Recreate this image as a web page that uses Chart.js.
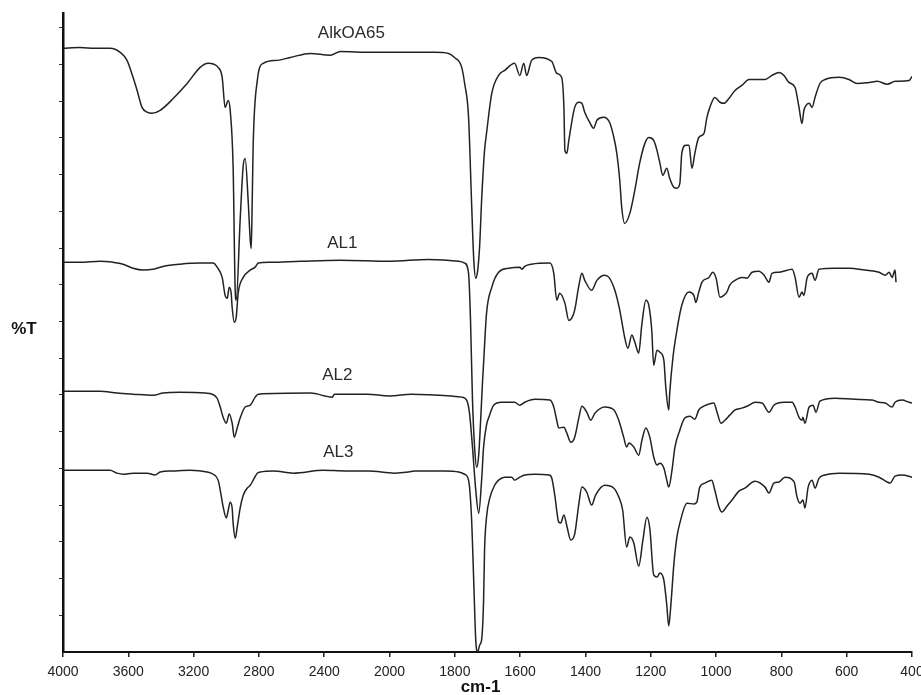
<!DOCTYPE html>
<html>
<head>
<meta charset="utf-8">
<script src="https://cdn.jsdelivr.net/npm/chart.js@4.4.1/dist/chart.umd.min.js"></script>
<style>
    html, body { margin: 0; padding: 0; background: #fff; }
    #wrap { width: 921px; height: 695px; position: relative; }
</style>
</head>
<body>
<div id="wrap"><canvas id="ftir"></canvas></div>
<script>
// --- data (wavenumber in cm-1, %T with an offset per spectrum) ---
const xTickLabels = [4000, 3600, 3200, 2800, 2400, 2000, 1800, 1600, 1400, 1200, 1000, 800, 600, 400];

const alkWn = [4000,3896,3804,3712,3650,3608,3571,3546,3516,3485,3454,3405,3325,3240,3160,3111,3050,3025,3007,2988,2976,2958,2945,2939,2915,2896,2884,2866,2853,2847,2841,2835,2810,2774,2688,2608,2485,2363,2301,2117,2000,1862,1819,1801,1779,1770,1758,1749,1742,1736,1730,1724,1718,1709,1703,1687,1666,1647,1617,1601,1589,1580,1565,1543,1503,1488,1473,1466,1463,1457,1451,1433,1420,1411,1402,1387,1375,1365,1344,1326,1313,1304,1295,1289,1280,1264,1249,1234,1218,1206,1191,1181,1172,1163,1151,1142,1129,1120,1111,1105,1092,1083,1074,1065,1053,1037,1028,1019,1004,988,976,961,942,921,899,850,829,807,792,777,758,746,737,731,725,715,706,697,682,666,623,593,568,531,506,476,451,409,400];
const alkT = [164.4,164.6,164.4,164.4,163.3,161.1,156.5,152.9,148.3,147.0,146.7,147.5,150.7,154.8,159.2,160.3,159.2,156.5,148.3,150.2,147.5,132.0,98.0,95.8,117.6,132.5,134.4,123.0,112.1,109.9,123.0,138.5,155.6,160.3,161.1,161.9,163.0,162.5,163.5,163.3,163.3,163.3,163.0,161.9,159.2,154.8,145.6,123.0,106.7,101.8,104.0,110.7,123.0,136.6,141.2,152.1,157.0,158.4,160.3,157.0,160.3,157.0,161.1,161.9,160.8,157.6,156.5,148.3,136.6,135.8,139.3,148.3,149.7,149.4,146.9,144.2,142.6,144.8,145.6,144.2,140.1,135.8,128.4,121.1,116.7,119.5,125.7,133.1,138.5,140.1,139.3,136.6,133.1,129.8,131.7,129.0,126.5,126.3,127.6,135.8,138.0,138.0,131.7,135.8,140.1,141.2,145.6,148.3,151.0,149.7,149.4,150.7,152.9,154.3,155.9,155.9,157.0,157.8,157.0,155.1,153.7,148.3,143.9,147.5,148.8,149.4,148.3,151.0,154.8,155.9,156.5,155.9,154.8,155.1,155.4,154.6,155.4,155.6,156.7];

const al1Wn = [4000,3896,3773,3693,3632,3571,3509,3448,3387,3283,3160,3080,3056,3025,3007,2994,2982,2970,2964,2951,2939,2927,2896,2853,2823,2804,2731,2547,2301,2000,1880,1788,1770,1758,1752,1746,1739,1733,1727,1721,1715,1712,1703,1687,1666,1635,1601,1595,1586,1565,1509,1497,1488,1479,1463,1451,1442,1433,1420,1411,1402,1381,1365,1341,1328,1310,1295,1280,1270,1258,1249,1237,1227,1215,1206,1197,1191,1181,1172,1160,1154,1145,1142,1132,1120,1105,1083,1068,1062,1053,1043,1022,1010,1000,988,976,967,958,942,921,905,890,869,853,838,829,807,767,758,746,737,731,721,706,697,685,636,593,544,501,482,470,461,452,449];
const al1T = [106.1,106.1,106.4,106.1,105.6,104.5,104.0,104.2,105.0,105.6,105.9,105.9,104.8,102.0,97.1,96.3,99.3,97.7,93.9,89.8,91.2,97.7,102.0,104.0,104.8,105.9,106.1,106.4,106.7,106.4,106.9,106.4,105.9,103.1,90.3,68.6,55.0,50.3,53.6,63.1,74.0,78.6,92.2,99.3,103.4,104.5,104.8,104.2,105.0,105.6,105.9,103.1,95.8,97.7,95.0,90.3,90.9,93.1,99.9,103.1,101.2,98.5,101.2,102.6,102.0,98.5,93.1,85.7,82.7,86.3,84.4,81.4,89.5,95.8,94.4,87.6,78.1,82.2,81.6,79.5,72.1,65.9,70.5,80.3,87.6,94.4,98.0,97.1,95.2,98.0,100.7,102.0,103.4,101.8,96.6,97.1,98.0,99.9,101.2,102.0,101.8,103.4,103.7,102.6,100.7,103.1,103.4,104.2,102.0,96.6,98.0,97.1,102.0,103.1,101.2,104.2,104.5,104.5,104.0,103.4,102.6,103.4,102.0,104.0,100.7];

const al2Wn = [4000,3773,3669,3571,3448,3387,3283,3129,3086,3056,3037,3019,3000,2982,2964,2951,2933,2915,2884,2853,2823,2804,2485,2350,2338,2136,2000,1933,1810,1779,1764,1755,1746,1736,1727,1718,1712,1703,1696,1681,1657,1617,1601,1586,1555,1509,1497,1488,1482,1466,1457,1445,1433,1420,1411,1396,1384,1371,1341,1313,1298,1283,1274,1267,1252,1237,1227,1215,1203,1191,1181,1172,1160,1151,1145,1135,1126,1111,1096,1080,1065,1053,1043,1022,1007,997,985,973,958,942,921,899,881,859,838,823,792,767,758,746,737,734,728,715,703,694,682,636,574,522,501,482,461,452,430,409,400];
const al2T = [71.0,71.0,70.5,70.2,69.9,70.5,70.7,70.5,70.2,69.1,66.7,63.9,62.3,64.8,62.3,58.5,61.0,63.7,66.7,67.2,69.4,70.2,70.5,69.4,70.2,70.2,69.7,70.2,69.7,69.4,68.6,65.0,55.8,44.1,37.8,46.8,55.8,61.8,63.9,67.2,68.0,68.0,67.2,68.0,68.8,68.6,66.7,63.1,61.0,61.2,59.6,57.1,58.5,63.9,66.9,65.3,63.1,65.0,66.7,65.9,63.1,58.5,55.8,56.9,55.8,53.6,57.7,61.0,58.5,53.1,50.9,51.4,50.1,46.8,44.9,49.5,55.8,60.4,63.7,64.2,63.4,65.9,66.7,67.5,67.8,65.3,62.3,63.1,64.5,65.9,66.4,67.2,68.0,67.8,65.3,67.2,68.0,68.0,66.7,63.9,63.1,63.9,62.3,66.7,67.2,65.3,68.3,69.1,68.8,68.6,68.0,67.8,66.7,68.0,68.6,68.0,67.8];

const al3Wn = [4000,3712,3669,3632,3571,3485,3436,3405,3325,3221,3117,3080,3050,3037,3019,3000,2988,2976,2964,2958,2945,2933,2915,2896,2872,2853,2835,2810,2792,2712,2590,2406,2271,2129,1985,1942,1923,1831,1788,1770,1758,1749,1742,1736,1730,1724,1718,1712,1709,1703,1693,1678,1666,1647,1626,1617,1601,1586,1555,1512,1503,1494,1482,1476,1466,1457,1445,1433,1420,1411,1396,1381,1369,1341,1313,1298,1286,1274,1264,1252,1237,1224,1212,1203,1191,1181,1172,1160,1151,1145,1139,1129,1120,1111,1089,1068,1059,1050,1034,1013,1004,991,982,967,951,930,912,881,850,838,823,807,789,761,752,743,734,728,718,706,697,685,666,623,531,501,476,467,452,430,400];
const al3T = [49.5,49.5,48.7,48.4,48.7,48.7,48.2,49.0,49.3,49.5,49.0,48.4,46.8,44.1,39.5,36.5,38.6,40.8,39.2,35.1,31.0,34.0,39.2,42.7,44.6,45.4,46.8,48.7,49.0,49.3,48.7,49.5,49.3,49.3,48.7,49.0,49.3,49.3,49.0,48.4,46.8,36.7,18.8,3.3,0.0,1.9,3.3,14.1,27.8,36.7,41.9,45.4,46.8,47.6,47.6,46.8,47.6,48.2,48.4,48.2,47.3,42.7,35.4,35.1,37.3,34.3,30.5,32.1,40.5,44.9,43.5,40.0,42.7,45.4,44.6,42.2,38.6,28.6,31.3,29.7,23.4,30.5,36.7,33.7,21.0,20.4,21.5,19.6,12.8,7.1,12.2,24.2,31.3,35.1,40.5,40.3,40.8,44.9,46.0,46.8,44.1,39.5,38.1,39.7,41.4,43.8,44.6,46.5,44.9,43.3,46.0,46.3,47.6,46.3,42.2,40.5,41.4,39.2,44.9,46.8,44.6,47.3,48.2,48.7,48.4,47.6,46.3,46.0,47.9,48.2,47.6];

const seriesNames = ['AlkOA65', 'AL1', 'AL2', 'AL3'];
const labelWn = [2234, 2289, 2320, 2314];
const labelT = [168.4, 111.3, 75.4, 54.4];

// the x axis is compressed 2x above 2000 cm-1, like the instrument plot
function toAxis(w) { return w >= 2000 ? (4000 - w) / 400 : 5 + (2000 - w) / 200; }
function fromAxis(u) { return u <= 5 ? 4000 - u * 400 : 2000 - (u - 5) * 200; }

function toPoints(wn, t) {
    return wn.map((w, i) => ({ x: toAxis(w), y: t[i] }));
}

const FONT = '"Liberation Sans", Arial, sans-serif';
const INK = '#222';

const spectraText = {
    id: 'spectraText',
    afterDraw(chart) {
        const { ctx, chartArea, scales: { x, y } } = chart;
        ctx.save();
        ctx.fillStyle = '#2b2b2b';
        ctx.textAlign = 'center';
        ctx.textBaseline = 'middle';
        ctx.font = '17px ' + FONT;
        seriesNames.forEach((name, i) => {
            ctx.fillText(name, x.getPixelForValue(toAxis(labelWn[i])), y.getPixelForValue(labelT[i]));
        });
        ctx.fillStyle = '#111';
        ctx.font = 'bold 17px ' + FONT;
        ctx.fillText('%T', chartArea.left - 39, y.getPixelForValue(88));
        ctx.fillText('cm-1', (chartArea.left + chartArea.right) / 2 - 7, chart.height - 8);
        ctx.restore();
    }
};

const series = [[alkWn, alkT], [al1Wn, al1T], [al2Wn, al2T], [al3Wn, al3T]];

new Chart(document.getElementById('ftir'), {
    type: 'line',
    data: {
        datasets: series.map((s, i) => ({
            label: seriesNames[i],
            data: toPoints(s[0], s[1]),
            borderColor: INK,
            borderWidth: 1.5,
            pointRadius: 0,
            cubicInterpolationMode: 'monotone',
            fill: false
        }))
    },
    options: {
        responsive: true,
        maintainAspectRatio: false,
        animation: false,
        layout: { padding: { top: 13, right: 9, left: 0, bottom: 0 } },
        plugins: { legend: { display: false }, tooltip: { enabled: false } },
        scales: {
            x: {
                type: 'linear',
                min: 0,
                max: 13,
                afterBuildTicks: scale => { scale.ticks = xTickLabels.map(w => ({ value: toAxis(w) })); },
                afterFit: scale => {
                    scale.height = 43;
                    // let the last label overhang instead of shrinking the plot
                    scale.paddingLeft = 0;
                    scale.paddingRight = 0;
                },
                ticks: {
                    autoSkip: false,
                    maxRotation: 0,
                    padding: 7,
                    color: '#222',
                    font: { family: FONT, size: 14 },
                    callback: v => String(Math.round(fromAxis(v)))
                },
                grid: { drawOnChartArea: false, drawTicks: true, tickLength: 5, color: '#222', lineWidth: 1.5 },
                border: { display: true, color: '#111', width: 2 }
            },
            y: {
                type: 'linear',
                min: 0,
                max: 174,
                afterBuildTicks: scale => {
                    const t = [];
                    for (let v = 10; v <= 170; v += 10) t.push({ value: v });
                    scale.ticks = t;
                },
                afterFit: scale => { scale.width = 63; },
                ticks: { display: false },
                grid: { drawOnChartArea: false, drawTicks: true, tickLength: 4, color: '#333', lineWidth: 1 },
                border: { display: true, color: '#111', width: 2.5 }
            }
        }
    },
    plugins: [spectraText]
});
</script>
</body>
</html>
